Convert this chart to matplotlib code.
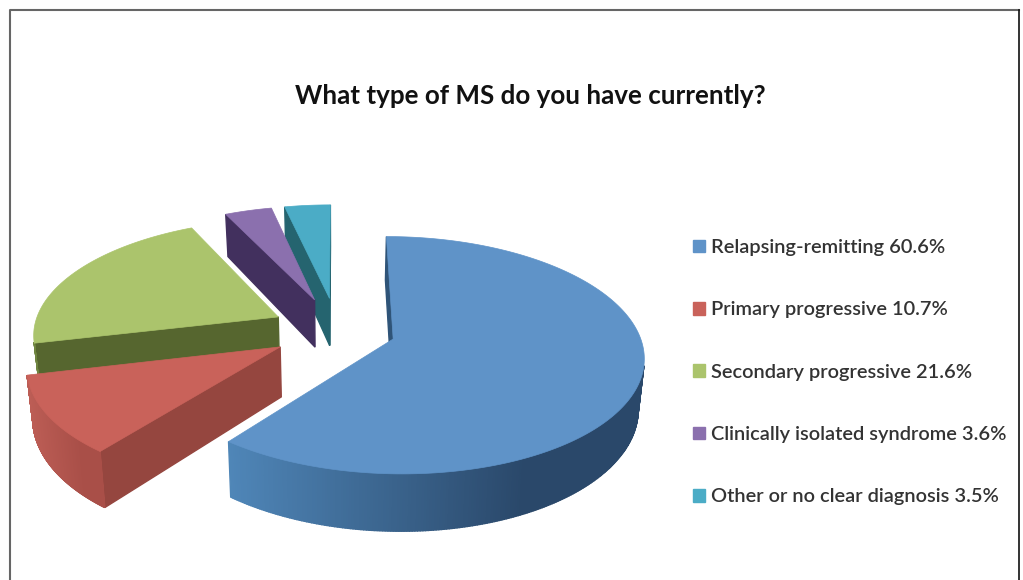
import numpy as np
import matplotlib
matplotlib.use("Agg")
import matplotlib.pyplot as plt
from matplotlib.patches import Patch
from matplotlib.colors import to_rgb

categories = ["Relapsing-remitting", "Primary progressive", "Secondary progressive",
              "Clinically isolated syndrome", "Other or no clear diagnosis"]
values = [60.6, 10.7, 21.6, 3.6, 3.5]
top_colors = ["#5f93c8", "#c9625a", "#abc46c", "#8b70ae", "#4bacc6"]
face_colors = ["#2f5478", "#95463f", "#56662f", "#42305e", "#25646f"]
# side colours at the left and right end of the rim
rim_left = ["#4f86b8", "#bc5d55", "#6f8540", "#5a4580", "#2f7f90"]
rim_right = ["#2a486a", "#a94f48", "#56662f", "#42305e", "#25646f"]
explode = [0.24, 0.27, 0.27, 0.29, 0.29]

# perspective of the disc, in pixels
cx, cy = 337, 330
fx, fy, persp = 245, 114, 0.135
depth = 49
shrink = 0.98


def project(X, Y):
    d = 1 + persp * Y
    return cx + fx * X / d, cy - fy * Y / d


def extrude(x, y, Y):
    return cx + (x - cx) * shrink, y + depth / (1 + persp * Y)


fig = plt.figure(figsize=(10.23, 5.8), dpi=100)
ax = fig.add_axes([0, 0, 1, 1])
ax.set_xlim(0, 1023)
ax.set_ylim(580, 0)
ax.axis("off")

starts = np.cumsum([0] + values[:-1]) / 100 * 2 * np.pi
spans = np.array(values) / 100 * 2 * np.pi

# back slices first so the big front ones sit on top
for i in [4, 3, 2, 1, 0]:
    mid = starts[i] + spans[i] / 2
    X0, Y0 = explode[i] * np.sin(mid), explode[i] * np.cos(mid)
    th = np.linspace(starts[i], starts[i] + spans[i], 400)
    X = np.r_[X0, X0 + np.sin(th)]
    Y = np.r_[Y0, Y0 + np.cos(th)]
    px, py = project(X, Y)
    bx, by = extrude(px, py, Y)
    ax_in, ay_in = px.mean(), py.mean()
    n = len(px)
    for a in range(n):
        b = (a + 1) % n
        ex, ey = px[b] - px[a], py[b] - py[a]
        # an edge shows its side if the drop points away from the slice
        side_in = ex * (ay_in - py[a]) - ey * (ax_in - px[a])
        side_drop = ex * (by[a] - py[a]) - ey * (bx[a] - px[a])
        if side_in * side_drop >= 0:
            continue
        if a == 0 or b == 0:
            col = face_colors[i]
        else:
            t = (px[a] - px[1:].min()) / (px[1:].max() - px[1:].min())
            t = min(1, 1.4 * t)
            col = tuple((1 - t) * np.array(to_rgb(rim_left[i])) + t * np.array(to_rgb(rim_right[i])))
        ax.fill([px[a], px[b], bx[b], bx[a]], [py[a], py[b], by[b], by[a]],
                color=col, lw=1)
    ax.fill(px, py, color=top_colors[i], lw=0.5)

# frame, open at the bottom
ax.plot([10, 10, 1019], [580, 10, 10], color="#666666", lw=1.5)
ax.plot([1019, 1019], [10, 580], color="#111111", lw=1.2)

ax.text(530, 96, "What type of MS do you have currently?", family="Lato",
        weight="bold", fontsize=18.7, color="#111111", ha="center", va="center")

handles = [Patch(color=c) for c in top_colors]
labels = [f"{c} {v}%" for c, v in zip(categories, values)]
ax.legend(handles, labels, loc="upper left", bbox_to_anchor=(693 / 1023, 1 - 239 / 580),
          frameon=False, labelcolor="#333333",
          prop={"family": "Lato", "size": 14.4, "weight": 600},
          handlelength=0.6, handleheight=0.6, handletextpad=0.3,
          labelspacing=2.265, borderpad=0, borderaxespad=0)

fig.savefig("out.png", dpi=100)
